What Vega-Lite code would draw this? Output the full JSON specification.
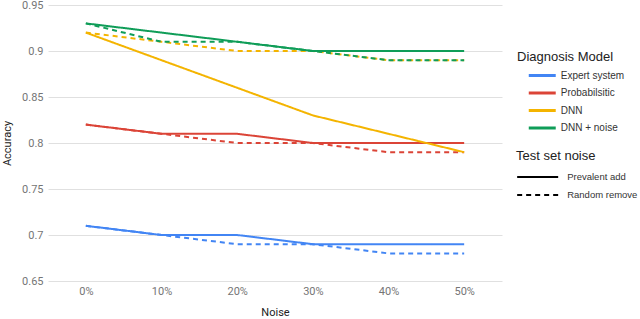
{
  "$schema": "https://vega.github.io/schema/vega-lite/v6.json",
  "autosize": "none",
  "width": 454,
  "height": 276,
  "padding": {"left": 48, "top": 5, "right": 138, "bottom": 38},
  "background": "white",
  "config": {
    "font": "Roboto",
    "view": {"stroke": null},
    "axis": {"domain": false, "ticks": false, "labelColor": "#757575", "labelFontSize": 11, "titleColor": "#222222", "titleFontSize": 11, "titleFontWeight": "normal", "gridColor": "#e0e0e0"}
  },
  "data": {"values": [
    {"noise": "0%", "model": "Expert system", "test": "Prevalent add", "acc": 0.71},
    {"noise": "10%", "model": "Expert system", "test": "Prevalent add", "acc": 0.70},
    {"noise": "20%", "model": "Expert system", "test": "Prevalent add", "acc": 0.70},
    {"noise": "30%", "model": "Expert system", "test": "Prevalent add", "acc": 0.69},
    {"noise": "40%", "model": "Expert system", "test": "Prevalent add", "acc": 0.69},
    {"noise": "50%", "model": "Expert system", "test": "Prevalent add", "acc": 0.69},
    {"noise": "0%", "model": "Expert system", "test": "Random remove", "acc": 0.71},
    {"noise": "10%", "model": "Expert system", "test": "Random remove", "acc": 0.70},
    {"noise": "20%", "model": "Expert system", "test": "Random remove", "acc": 0.69},
    {"noise": "30%", "model": "Expert system", "test": "Random remove", "acc": 0.69},
    {"noise": "40%", "model": "Expert system", "test": "Random remove", "acc": 0.68},
    {"noise": "50%", "model": "Expert system", "test": "Random remove", "acc": 0.68},
    {"noise": "0%", "model": "Probabilsitic", "test": "Prevalent add", "acc": 0.82},
    {"noise": "10%", "model": "Probabilsitic", "test": "Prevalent add", "acc": 0.81},
    {"noise": "20%", "model": "Probabilsitic", "test": "Prevalent add", "acc": 0.81},
    {"noise": "30%", "model": "Probabilsitic", "test": "Prevalent add", "acc": 0.80},
    {"noise": "40%", "model": "Probabilsitic", "test": "Prevalent add", "acc": 0.80},
    {"noise": "50%", "model": "Probabilsitic", "test": "Prevalent add", "acc": 0.80},
    {"noise": "0%", "model": "Probabilsitic", "test": "Random remove", "acc": 0.82},
    {"noise": "10%", "model": "Probabilsitic", "test": "Random remove", "acc": 0.81},
    {"noise": "20%", "model": "Probabilsitic", "test": "Random remove", "acc": 0.80},
    {"noise": "30%", "model": "Probabilsitic", "test": "Random remove", "acc": 0.80},
    {"noise": "40%", "model": "Probabilsitic", "test": "Random remove", "acc": 0.79},
    {"noise": "50%", "model": "Probabilsitic", "test": "Random remove", "acc": 0.79},
    {"noise": "0%", "model": "DNN", "test": "Prevalent add", "acc": 0.92},
    {"noise": "10%", "model": "DNN", "test": "Prevalent add", "acc": 0.89},
    {"noise": "20%", "model": "DNN", "test": "Prevalent add", "acc": 0.86},
    {"noise": "30%", "model": "DNN", "test": "Prevalent add", "acc": 0.83},
    {"noise": "40%", "model": "DNN", "test": "Prevalent add", "acc": 0.81},
    {"noise": "50%", "model": "DNN", "test": "Prevalent add", "acc": 0.79},
    {"noise": "0%", "model": "DNN", "test": "Random remove", "acc": 0.92},
    {"noise": "10%", "model": "DNN", "test": "Random remove", "acc": 0.91},
    {"noise": "20%", "model": "DNN", "test": "Random remove", "acc": 0.90},
    {"noise": "30%", "model": "DNN", "test": "Random remove", "acc": 0.90},
    {"noise": "40%", "model": "DNN", "test": "Random remove", "acc": 0.89},
    {"noise": "50%", "model": "DNN", "test": "Random remove", "acc": 0.89},
    {"noise": "0%", "model": "DNN + noise", "test": "Prevalent add", "acc": 0.93},
    {"noise": "10%", "model": "DNN + noise", "test": "Prevalent add", "acc": 0.92},
    {"noise": "20%", "model": "DNN + noise", "test": "Prevalent add", "acc": 0.91},
    {"noise": "30%", "model": "DNN + noise", "test": "Prevalent add", "acc": 0.90},
    {"noise": "40%", "model": "DNN + noise", "test": "Prevalent add", "acc": 0.90},
    {"noise": "50%", "model": "DNN + noise", "test": "Prevalent add", "acc": 0.90},
    {"noise": "0%", "model": "DNN + noise", "test": "Random remove", "acc": 0.93},
    {"noise": "10%", "model": "DNN + noise", "test": "Random remove", "acc": 0.91},
    {"noise": "20%", "model": "DNN + noise", "test": "Random remove", "acc": 0.91},
    {"noise": "30%", "model": "DNN + noise", "test": "Random remove", "acc": 0.90},
    {"noise": "40%", "model": "DNN + noise", "test": "Random remove", "acc": 0.89},
    {"noise": "50%", "model": "DNN + noise", "test": "Random remove", "acc": 0.89}
  ]},
  "mark": {"type": "line", "strokeWidth": 2},
  "encoding": {
    "x": {"field": "noise", "type": "ordinal", "sort": null, "scale": {"type": "point", "padding": 0.5},
      "axis": {"title": "Noise", "labelAngle": 0, "labelPadding": 4, "titlePadding": 10}},
    "y": {"field": "acc", "type": "quantitative", "scale": {"domain": [0.65, 0.95], "zero": false, "nice": false},
      "axis": {"title": "Accuracy", "values": [0.65, 0.7, 0.75, 0.8, 0.85, 0.9, 0.95], "format": ".2~f", "labelPadding": 5, "titlePadding": 9}},
    "color": {"field": "model", "type": "nominal",
      "scale": {"domain": ["Expert system", "Probabilsitic", "DNN", "DNN + noise"], "range": ["#4285F4", "#DB4437", "#F4B400", "#0F9D58"]},
      "legend": {"title": "Diagnosis Model", "orient": "none", "legendX": 469, "legendY": 46, "symbolType": "M-2,0H2", "symbolSize": 182, "symbolStrokeWidth": 3, "symbolOffset": 16.75, "labelOffset": 10, "labelFont": "Liberation Sans", "titleFont": "Liberation Sans", "labelFontSize": 10, "labelColor": "#333333", "titleFontSize": 13, "titleFontWeight": "normal", "titleColor": "#222222", "titlePadding": 3, "rowPadding": 2.5, "padding": 0}},
    "strokeDash": {"field": "test", "type": "nominal",
      "scale": {"domain": ["Prevalent add", "Random remove"], "range": [[1, 0], [5, 4]]},
      "legend": {"title": "Test set noise", "orient": "none", "legendX": 468, "legendY": 145, "symbolType": "M-3,0H3", "symbolSize": 187, "symbolStrokeColor": "black", "symbolStrokeWidth": 2, "symbolOffset": 13.67, "labelOffset": 21.5, "labelFont": "Liberation Sans", "titleFont": "Liberation Sans", "labelFontSize": 9.5, "labelColor": "#333333", "titleFontSize": 13, "titleFontWeight": "normal", "titleColor": "#222222", "titlePadding": 6, "rowPadding": 5, "padding": 0}},
    "detail": {"field": "test"}
  }
}
